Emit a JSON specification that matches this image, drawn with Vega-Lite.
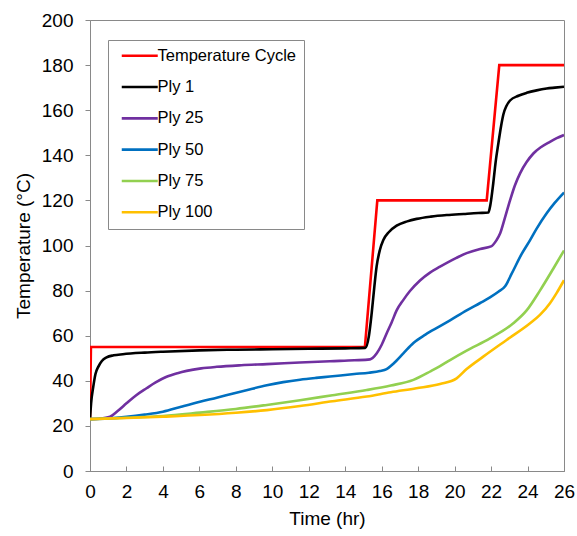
{
  "$schema": "https://vega.github.io/schema/vega-lite/v6.json",
  "width": 474,
  "height": 451,
  "autosize": {"type": "none"},
  "padding": {"left": 90, "top": 20, "right": 13, "bottom": 65},
  "background": "white",
  "config": {
    "view": {"stroke": "#898989", "strokeWidth": 1},
    "font": "Liberation Sans",
    "axis": {"grid": false, "domainColor": "#898989", "tickColor": "#898989", "labelColor": "#000000", "titleColor": "#000000", "labelFont": "Liberation Sans", "titleFont": "Liberation Sans", "labelFontSize": 19, "titleFontSize": 19, "titleFontWeight": "normal"}
  },
  "data": {"values": [
    {"s": "Temperature Cycle", "t": 0, "T": 23},
    {"s": "Temperature Cycle", "t": 0.05, "T": 55},
    {"s": "Temperature Cycle", "t": 15.08, "T": 55},
    {"s": "Temperature Cycle", "t": 15.76, "T": 120},
    {"s": "Temperature Cycle", "t": 21.76, "T": 120},
    {"s": "Temperature Cycle", "t": 22.45, "T": 180},
    {"s": "Temperature Cycle", "t": 26, "T": 180},

    {"s": "Ply 1", "t": 0, "T": 23},
    {"s": "Ply 1", "t": 0.06, "T": 30},
    {"s": "Ply 1", "t": 0.18, "T": 37.4},
    {"s": "Ply 1", "t": 0.3, "T": 43},
    {"s": "Ply 1", "t": 0.46, "T": 46.3},
    {"s": "Ply 1", "t": 0.65, "T": 48.8},
    {"s": "Ply 1", "t": 0.91, "T": 50.4},
    {"s": "Ply 1", "t": 1.3, "T": 51.3},
    {"s": "Ply 1", "t": 1.8, "T": 51.8},
    {"s": "Ply 1", "t": 3, "T": 52.5},
    {"s": "Ply 1", "t": 4, "T": 52.9},
    {"s": "Ply 1", "t": 6, "T": 53.5},
    {"s": "Ply 1", "t": 8, "T": 53.8},
    {"s": "Ply 1", "t": 10, "T": 54.0},
    {"s": "Ply 1", "t": 12, "T": 54.2},
    {"s": "Ply 1", "t": 14, "T": 54.4},
    {"s": "Ply 1", "t": 15.1, "T": 54.6},
    {"s": "Ply 1", "t": 15.3, "T": 60},
    {"s": "Ply 1", "t": 15.45, "T": 69.9},
    {"s": "Ply 1", "t": 15.6, "T": 82},
    {"s": "Ply 1", "t": 15.72, "T": 90.6},
    {"s": "Ply 1", "t": 15.9, "T": 98},
    {"s": "Ply 1", "t": 16.09, "T": 102.4},
    {"s": "Ply 1", "t": 16.4, "T": 106},
    {"s": "Ply 1", "t": 16.82, "T": 108.8},
    {"s": "Ply 1", "t": 17.4, "T": 110.7},
    {"s": "Ply 1", "t": 17.92, "T": 111.8},
    {"s": "Ply 1", "t": 18.7, "T": 112.8},
    {"s": "Ply 1", "t": 19.57, "T": 113.5},
    {"s": "Ply 1", "t": 20.5, "T": 114.0},
    {"s": "Ply 1", "t": 21.3, "T": 114.4},
    {"s": "Ply 1", "t": 21.85, "T": 114.6},
    {"s": "Ply 1", "t": 21.96, "T": 118},
    {"s": "Ply 1", "t": 22.12, "T": 127.6},
    {"s": "Ply 1", "t": 22.25, "T": 137},
    {"s": "Ply 1", "t": 22.4, "T": 145.3},
    {"s": "Ply 1", "t": 22.55, "T": 153},
    {"s": "Ply 1", "t": 22.67, "T": 158},
    {"s": "Ply 1", "t": 22.85, "T": 162},
    {"s": "Ply 1", "t": 23.04, "T": 164.3},
    {"s": "Ply 1", "t": 23.5, "T": 166.4},
    {"s": "Ply 1", "t": 23.95, "T": 167.7},
    {"s": "Ply 1", "t": 24.5, "T": 168.8},
    {"s": "Ply 1", "t": 25.05, "T": 169.6},
    {"s": "Ply 1", "t": 25.5, "T": 170},
    {"s": "Ply 1", "t": 26, "T": 170.4},

    {"s": "Ply 25", "t": 0, "T": 23},
    {"s": "Ply 25", "t": 0.5, "T": 23.2},
    {"s": "Ply 25", "t": 1.1, "T": 24.1},
    {"s": "Ply 25", "t": 1.5, "T": 26.5},
    {"s": "Ply 25", "t": 2, "T": 30},
    {"s": "Ply 25", "t": 2.5, "T": 33.4},
    {"s": "Ply 25", "t": 3.1, "T": 36.7},
    {"s": "Ply 25", "t": 3.6, "T": 39.3},
    {"s": "Ply 25", "t": 4.2, "T": 41.8},
    {"s": "Ply 25", "t": 4.8, "T": 43.4},
    {"s": "Ply 25", "t": 5.3, "T": 44.4},
    {"s": "Ply 25", "t": 6.1, "T": 45.5},
    {"s": "Ply 25", "t": 6.95, "T": 46.2},
    {"s": "Ply 25", "t": 8.3, "T": 46.9},
    {"s": "Ply 25", "t": 9.7, "T": 47.4},
    {"s": "Ply 25", "t": 11.5, "T": 48.1},
    {"s": "Ply 25", "t": 13.16, "T": 48.7},
    {"s": "Ply 25", "t": 14.5, "T": 49.1},
    {"s": "Ply 25", "t": 15.36, "T": 49.5},
    {"s": "Ply 25", "t": 15.73, "T": 52.2},
    {"s": "Ply 25", "t": 16, "T": 56},
    {"s": "Ply 25", "t": 16.27, "T": 61},
    {"s": "Ply 25", "t": 16.55, "T": 66},
    {"s": "Ply 25", "t": 16.82, "T": 71.2},
    {"s": "Ply 25", "t": 17.2, "T": 76},
    {"s": "Ply 25", "t": 17.55, "T": 79.8},
    {"s": "Ply 25", "t": 18.1, "T": 84.5},
    {"s": "Ply 25", "t": 18.65, "T": 88},
    {"s": "Ply 25", "t": 19.2, "T": 90.6},
    {"s": "Ply 25", "t": 20.1, "T": 94.5},
    {"s": "Ply 25", "t": 20.66, "T": 96.6},
    {"s": "Ply 25", "t": 21.4, "T": 98.5},
    {"s": "Ply 25", "t": 22.0, "T": 99.6},
    {"s": "Ply 25", "t": 22.3, "T": 102.4},
    {"s": "Ply 25", "t": 22.5, "T": 105.4},
    {"s": "Ply 25", "t": 22.75, "T": 112},
    {"s": "Ply 25", "t": 23.04, "T": 120},
    {"s": "Ply 25", "t": 23.3, "T": 126.5},
    {"s": "Ply 25", "t": 23.59, "T": 132},
    {"s": "Ply 25", "t": 23.95, "T": 137},
    {"s": "Ply 25", "t": 24.32, "T": 140.8},
    {"s": "Ply 25", "t": 24.75, "T": 143.7},
    {"s": "Ply 25", "t": 25.23, "T": 146},
    {"s": "Ply 25", "t": 25.6, "T": 147.6},
    {"s": "Ply 25", "t": 26, "T": 149},

    {"s": "Ply 50", "t": 0, "T": 23},
    {"s": "Ply 50", "t": 1, "T": 23.3},
    {"s": "Ply 50", "t": 2, "T": 24},
    {"s": "Ply 50", "t": 3, "T": 25},
    {"s": "Ply 50", "t": 4, "T": 26.3},
    {"s": "Ply 50", "t": 5, "T": 28.5},
    {"s": "Ply 50", "t": 6.03, "T": 30.7},
    {"s": "Ply 50", "t": 7, "T": 32.6},
    {"s": "Ply 50", "t": 7.86, "T": 34.4},
    {"s": "Ply 50", "t": 8.8, "T": 36.3},
    {"s": "Ply 50", "t": 9.7, "T": 38},
    {"s": "Ply 50", "t": 10.6, "T": 39.4},
    {"s": "Ply 50", "t": 11.52, "T": 40.5},
    {"s": "Ply 50", "t": 12.4, "T": 41.3},
    {"s": "Ply 50", "t": 13.16, "T": 41.9},
    {"s": "Ply 50", "t": 14.5, "T": 43},
    {"s": "Ply 50", "t": 15.3, "T": 43.6},
    {"s": "Ply 50", "t": 15.9, "T": 44.3},
    {"s": "Ply 50", "t": 16.27, "T": 45.2},
    {"s": "Ply 50", "t": 16.64, "T": 47.6},
    {"s": "Ply 50", "t": 17.2, "T": 52.3},
    {"s": "Ply 50", "t": 17.74, "T": 56.8},
    {"s": "Ply 50", "t": 18.4, "T": 60.5},
    {"s": "Ply 50", "t": 19.2, "T": 64.2},
    {"s": "Ply 50", "t": 19.75, "T": 66.8},
    {"s": "Ply 50", "t": 20.66, "T": 71.2},
    {"s": "Ply 50", "t": 21.4, "T": 74.5},
    {"s": "Ply 50", "t": 21.94, "T": 77},
    {"s": "Ply 50", "t": 22.4, "T": 79.5},
    {"s": "Ply 50", "t": 22.77, "T": 81.9},
    {"s": "Ply 50", "t": 23.13, "T": 87.5},
    {"s": "Ply 50", "t": 23.68, "T": 96.3},
    {"s": "Ply 50", "t": 24.14, "T": 102.4},
    {"s": "Ply 50", "t": 24.5, "T": 107.5},
    {"s": "Ply 50", "t": 25.05, "T": 114.3},
    {"s": "Ply 50", "t": 25.5, "T": 119},
    {"s": "Ply 50", "t": 26, "T": 123.5},

    {"s": "Ply 75", "t": 0, "T": 23},
    {"s": "Ply 75", "t": 2, "T": 23.6},
    {"s": "Ply 75", "t": 4, "T": 24.4},
    {"s": "Ply 75", "t": 6.03, "T": 25.9},
    {"s": "Ply 75", "t": 8, "T": 27.5},
    {"s": "Ply 75", "t": 9.7, "T": 29.3},
    {"s": "Ply 75", "t": 11.52, "T": 31.4},
    {"s": "Ply 75", "t": 13.3, "T": 33.6},
    {"s": "Ply 75", "t": 15.18, "T": 35.9},
    {"s": "Ply 75", "t": 16.5, "T": 37.9},
    {"s": "Ply 75", "t": 17.74, "T": 40.4},
    {"s": "Ply 75", "t": 18.7, "T": 44.3},
    {"s": "Ply 75", "t": 19.2, "T": 46.5},
    {"s": "Ply 75", "t": 19.75, "T": 49.2},
    {"s": "Ply 75", "t": 20.66, "T": 53.4},
    {"s": "Ply 75", "t": 21.94, "T": 58.8},
    {"s": "Ply 75", "t": 23.22, "T": 65.5},
    {"s": "Ply 75", "t": 23.95, "T": 71.2},
    {"s": "Ply 75", "t": 24.68, "T": 80},
    {"s": "Ply 75", "t": 25.41, "T": 89.7},
    {"s": "Ply 75", "t": 26, "T": 97.8},

    {"s": "Ply 100", "t": 0, "T": 23},
    {"s": "Ply 100", "t": 2, "T": 23.5},
    {"s": "Ply 100", "t": 4, "T": 24.1},
    {"s": "Ply 100", "t": 6.03, "T": 24.8},
    {"s": "Ply 100", "t": 8, "T": 25.8},
    {"s": "Ply 100", "t": 9.7, "T": 27},
    {"s": "Ply 100", "t": 11.52, "T": 28.8},
    {"s": "Ply 100", "t": 13.3, "T": 30.9},
    {"s": "Ply 100", "t": 15.18, "T": 33},
    {"s": "Ply 100", "t": 16.5, "T": 34.9},
    {"s": "Ply 100", "t": 17.9, "T": 36.7},
    {"s": "Ply 100", "t": 19.2, "T": 38.6},
    {"s": "Ply 100", "t": 20.11, "T": 41.1},
    {"s": "Ply 100", "t": 20.66, "T": 45.2},
    {"s": "Ply 100", "t": 21.57, "T": 50.7},
    {"s": "Ply 100", "t": 22.85, "T": 58.1},
    {"s": "Ply 100", "t": 24.14, "T": 65.5},
    {"s": "Ply 100", "t": 24.68, "T": 69.2},
    {"s": "Ply 100", "t": 25.23, "T": 74.4},
    {"s": "Ply 100", "t": 25.6, "T": 79},
    {"s": "Ply 100", "t": 26, "T": 84.6}
  ]},
  "encoding": {
    "x": {"field": "t", "type": "quantitative",
      "scale": {"domain": [0, 26], "nice": false, "zero": false},
      "axis": {"title": "Time (hr)", "values": [0,2,4,6,8,10,12,14,16,18,20,22,24,26], "tickSize": -5, "labelPadding": 16, "titlePadding": 8, "labelFlush": false}},
    "y": {"field": "T", "type": "quantitative",
      "scale": {"domain": [0, 200], "nice": false},
      "axis": {"title": "Temperature (°C)", "values": [0,20,40,60,80,100,120,140,160,180,200], "tickSize": 5, "labelPadding": 12, "titlePadding": 8}},
    "color": {"field": "s", "type": "nominal",
      "scale": {"domain": ["Temperature Cycle", "Ply 1", "Ply 25", "Ply 50", "Ply 75", "Ply 100"],
                "range": ["#FF0000", "#000000", "#7030A0", "#0070C0", "#92D050", "#FFC000"]},
      "legend": {"title": null, "orient": "none", "legendX": 18, "legendY": 20,
        "strokeColor": "#898989", "fillColor": "white", "padding": 7.5,
        "symbolType": "M-1,0L7,0", "symbolSize": 81, "symbolStrokeWidth": 2.6, "symbolOffset": 2.5,
        "labelFontSize": 16.5, "labelFont": "Liberation Sans", "labelColor": "#000000",
        "labelOffset": 23, "rowPadding": 14.3, "labelLimit": 300}},
    "order": {"field": "t", "type": "quantitative"}
  },
  "layer": [
    {"transform": [{"filter": "datum.s === 'Temperature Cycle'"}],
     "mark": {"type": "line", "strokeWidth": 2.6, "clip": true}},
    {"transform": [{"filter": "datum.s !== 'Temperature Cycle'"}],
     "mark": {"type": "line", "strokeWidth": 2.6, "clip": true, "interpolate": "monotone"}}
  ]
}
